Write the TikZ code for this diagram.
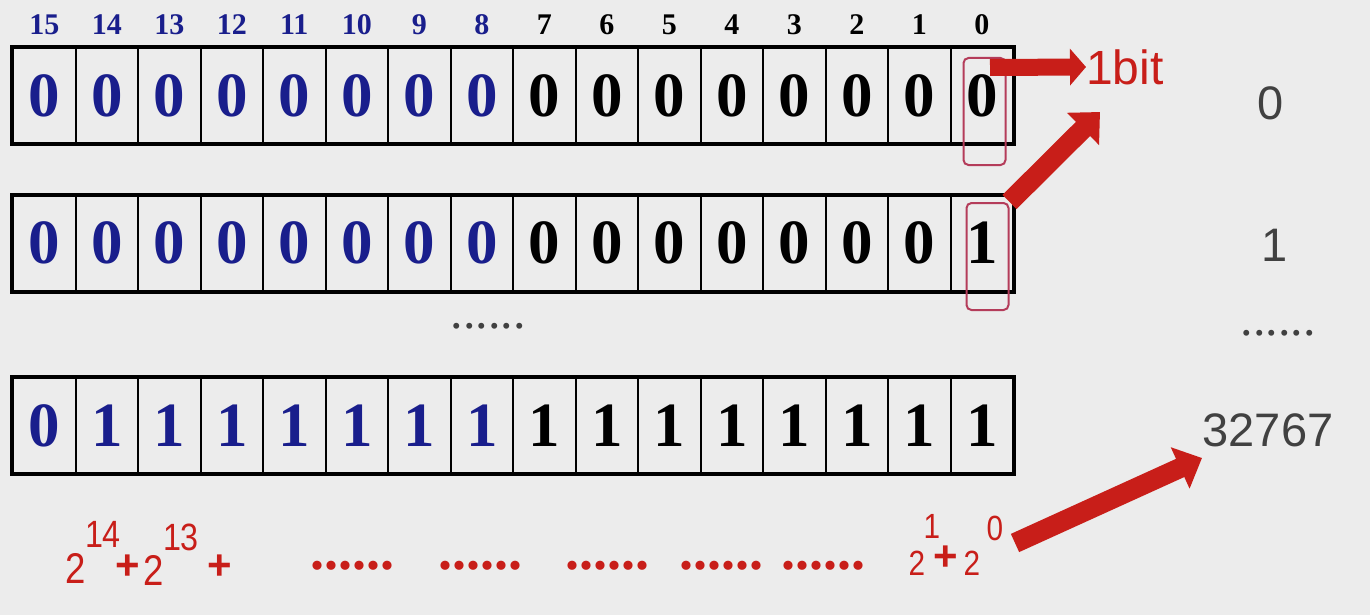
\documentclass[tikz,border=0pt]{standalone}
\usepackage{fontspec}
\setmainfont{Liberation Serif}
\setsansfont{Liberation Sans}
\newfontfamily\narrowsans[FakeStretch=0.85]{Liberation Sans}
\usetikzlibrary{positioning,arrows.meta}
\definecolor{bg}{RGB}{236,236,236}
\definecolor{bitblue}{RGB}{25,30,140}
\definecolor{arrowred}{RGB}{200,30,25}
\definecolor{markred}{RGB}{180,60,90}
\definecolor{valgray}{RGB}{65,65,65}

\begin{document}
\begin{tikzpicture}[x=1pt,y=-1pt,
  bitcell/.style={draw, line width=2pt, minimum width=62.5pt, minimum height=95pt, inner sep=0pt, font=\fontsize{63}{63}\selectfont\bfseries},
  bitnum/.style={inner sep=0pt, font=\fontsize{30}{30}\selectfont\bfseries},
  frame/.style={draw, line width=4pt},
  markbox/.style={draw=markred, line width=2pt, rounded corners=5pt, minimum width=42pt, minimum height=107pt, inner sep=0pt},
  valtext/.style={inner sep=0pt, text=valgray, font=\sffamily\fontsize{47}{47}\selectfont},
  graydots/.style={inner sep=0pt, text=valgray, font=\fontsize{50}{50}\selectfont},
  redtext/.style={inner sep=0pt, text=arrowred, font=\narrowsans\fontsize{43}{43}\selectfont},
  redsup/.style={redtext, font=\narrowsans\fontsize{38}{38}\selectfont},
  redsmall/.style={redtext, font=\narrowsans\fontsize{35}{35}\selectfont},
  redplus/.style={inner sep=0pt, text=arrowred, font=\sffamily\bfseries\fontsize{42}{42}\selectfont},
  reddots/.style={inner sep=0pt, text=arrowred, font=\bfseries\fontsize{56}{56}\selectfont},
  thinarrow/.style={draw=arrowred, line width=17pt, -{Triangle[length=16pt,width=36pt]}},
  fatarrow/.style={draw=arrowred, line width=20pt, -{Triangle[length=24pt,width=44pt]}}]
\useasboundingbox[fill=bg] (0,0) rectangle (1370,615);

% bit numbers and the three registers
\foreach \i in {0,...,15} {
  \pgfmathtruncatemacro\b{15-\i}
  \ifnum\i<8 \def\clr{bitblue}\else\def\clr{black}\fi
  \node[bitnum, text=\clr] (h\b) at (44.25+62.5*\i, 25) {\b};
  \node[bitcell, text=\clr] (a\b) at (44.25+62.5*\i, 95.5) {0};
  \pgfmathtruncatemacro\d{\i==15 ? 1 : 0}
  \node[bitcell, text=\clr] (b\b) at (44.25+62.5*\i, 243) {\d};
  \pgfmathtruncatemacro\d{\i>0 ? 1 : 0}
  \node[bitcell, text=\clr] (c\b) at (44.25+62.5*\i, 425.5) {\d};
}
\draw[frame] (a15.north west) rectangle (a0.south east);
\draw[frame] (b15.north west) rectangle (b0.south east);
\draw[frame] (c15.north west) rectangle (c0.south east);

% lowest bit marked
\node[markbox] (m1) at (984.5,111.5) {};
\node[markbox] (m2) at (987.5,256.5) {};
\node[anchor=west, inner sep=0pt, text=arrowred, font=\sffamily\fontsize{48}{48}\selectfont] (bit) at (1086,67) {1bit};

% values
\node[valtext] (v0) at (1271,103) {0};
\node[valtext] (v1) at (1275,245) {1};
\node[graydots] (vd) at (1278,333) {......};
\node[valtext] (v3) at (1268,430) {32767};
\node[graydots] (md) at (488,326) {......};

% sum of powers
\node[redtext] (p14b) at (76,568) {2};
\node[redsup] (p14e) at (103,534) {14};
\node[redplus] (s1) at (128,567) {+};
\node[redtext] (p13b) at (154,570) {2};
\node[redsup] (p13e) at (181,537) {13};
\node[redplus] (s2) at (220,567) {+};
\foreach \x [count=\n] in {352, 480, 607, 721, 823} % dot groups
\node[reddots] (g\n) at (\x,566) {......};
\node[redsmall] (p1b) at (917,563) {2};
\node[redsmall] (p1e) at (932,526) {1};
\node[redplus] (s3) at (946,558) {+};
\node[redsmall] (p0b) at (972,563) {2};
\node[redsmall] (p0e) at (995,528) {0};

% arrows
\coordinate (bitsrc) at (990,67.5);
\coordinate (bitin) at (1100,112);
\coordinate (sumsrc) at (1015,543);
\coordinate (sumdst) at (1202,458);
\draw[thinarrow] (bitsrc) -- (bit.west);
\draw[fatarrow] (m2.north east) -- (bitin);
\draw[fatarrow] (sumsrc) -- (sumdst);
\end{tikzpicture}
\end{document}
